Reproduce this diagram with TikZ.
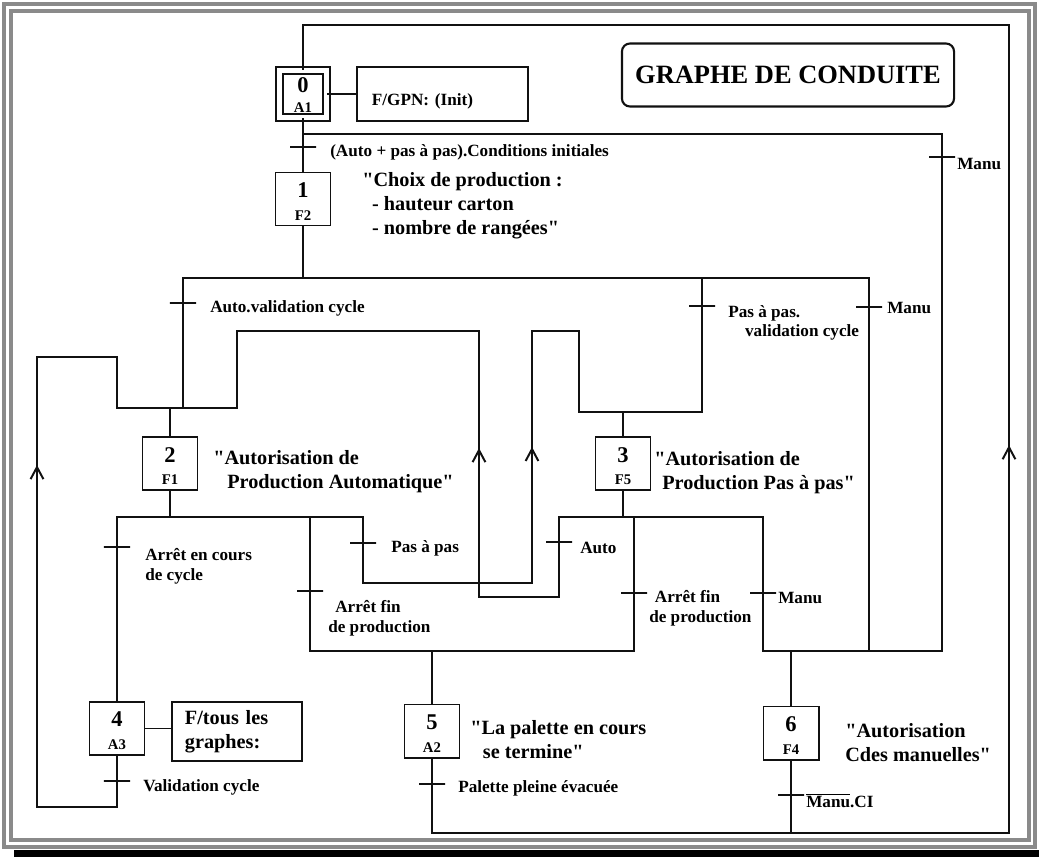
\documentclass[tikz,border=0pt]{standalone}
\usepackage{fontspec}
\setmainfont{Liberation Serif}[Ligatures=TeXOff]
\usepackage{xcolor}
\definecolor{cTrait}{HTML}{111111}
\definecolor{cCadre}{HTML}{8A8A8A}
\usepackage{tikz}
\usetikzlibrary{arrows.meta, decorations.markings}

\newcommand{\fpetit}{\fontsize{12.2}{14}\selectfont\bfseries\frenchspacing}
\newcommand{\fdesc}{\fontsize{14.4}{17}\selectfont\bfseries\frenchspacing}
\newcommand{\ftitre}{\fontsize{18.8}{22}\selectfont\bfseries}
\newcommand{\fnum}{\fontsize{16}{16}\selectfont\bfseries}
\newcommand{\fsub}{\fontsize{10.5}{10.5}\selectfont\bfseries}
\newcommand{\gd}{\symbol{34}}

\begin{document}
\begin{tikzpicture}[x=0.025cm, y=-0.025cm,
    trait/.style={line width=1.4pt, color=cTrait, line cap=rect},
    etape/.style={draw=cTrait, line width=1.4pt, fill=white,
                  minimum width=1.375cm, minimum height=1.325cm, inner sep=0pt},
    etapeinit/.style={etape, double, double distance=3.7pt,
                      minimum width=1.1875cm, minimum height=1.175cm},
    num/.style={anchor=north, inner sep=0pt, yshift=-7.7pt, font=\fnum},
    sub/.style={anchor=south, inner sep=0pt, yshift=4.2pt, font=\fsub},
    etq/.style 2 args={label={[num]north:#1}, label={[sub]south:#2}},
    action/.style={draw=cTrait, line width=1.4pt, align=left, font=\fdesc},
    trans/.style={draw=cTrait, line width=1.4pt, minimum width=0.65cm,
                  minimum height=0pt, inner sep=0pt, outer sep=0pt},
    etiq/.style={anchor=west, inner sep=0pt, align=left, font=\fpetit},
    desc/.style={anchor=west, inner sep=0pt, align=left, font=\fdesc},
    titre/.style={draw=cTrait, line width=1.5pt, rounded corners=0.2cm,
                  minimum width=8.3cm, minimum height=1.575cm, font=\ftitre},
    fleche/.style={postaction={decorate}, decoration={markings,
        mark=at position #1 with {\arrow{Straight Barb[length=3mm, width=3.2mm]}}}}
]
\useasboundingbox (0,0) rectangle (1039,857);

% cadre de la page
\draw[cCadre, line width=2.6pt] (4,4) rectangle (1035,847);
\draw[cCadre, line width=2.2pt] (11,11) rectangle (1029,840);
\fill[black] (14,850) rectangle (1039,857);

\node[titre] (titre) at (788,75) {GRAPHE DE CONDUITE};

% etapes
\node[etapeinit, label={[num, yshift=2.4pt]north:0}, label={[sub]south:A1}] (e0) at (303,94) {};
\node[etape, etq={1}{F2}] (e1) at (303,199) {};
\node[etape, etq={2}{F1}] (e2) at (170,463.5) {};
\node[etape, etq={3}{F5}] (e3) at (623,463.5) {};
\node[etape, etq={4}{A3}] (e4) at (117,728.5) {};
\node[etape, etq={5}{A2}] (e5) at (432,731) {};
\node[etape, etq={6}{F4}] (e6) at (791,733) {};

% actions
\node[action, font=\fpetit, text width=3.525cm, inner xsep=0.375cm,
      minimum height=1.35cm, text height=19pt] (a0) at (442.5,94) {F/GPN: (Init)};
\node[action, text width=2.6cm, inner xsep=0.325cm,
      minimum height=1.475cm] (a4) at (237,731.5) {F/tous les\\graphes:};

\node[desc] (d1) at (362,206) {\gd Choix de production :\\\hspace*{7pt}- hauteur carton\\\hspace*{7pt}- nombre de rangées\gd};
\node[desc] (d2) at (213,472) {\gd Autorisation de\\\hspace*{10pt}Production Automatique\gd};
\node[desc] (d3) at (654,473) {\gd Autorisation de\\\hspace*{5.7pt}Production Pas à pas\gd};
\node[desc] (d5) at (470,740) {\gd La palette en cours\\\hspace*{9pt}se termine\gd};
\node[desc] (d6) at (845,743) {\gd Autorisation\\Cdes manuelles\gd};

% transitions
\node[trans] (t01) at (303,147) {};
\node[etiq] (l01) at (330,152) {(Auto + pas à pas).Conditions initiales};
\node[trans] (t0m) at (942,157) {};
\node[etiq] (l0m) at (957,164) {Manu};
\node[trans] (t12) at (183,303) {};
\node[etiq] (l12) at (210,308) {Auto.validation cycle};
\node[trans] (t13) at (702,306) {};
\node[etiq] (l13) at (728,323) {Pas à pas.\\\hspace*{12pt}validation cycle};
\node[trans] (t1m) at (869,307) {};
\node[etiq] (l1m) at (887,308) {Manu};
\node[trans] (t24) at (117,547) {};
\node[etiq] (l24) at (145,566) {Arrêt en cours\\de cycle};
\node[trans] (t23) at (363,543) {};
\node[etiq] (l23) at (391,548) {Pas à pas};
\node[trans] (t25) at (310,591) {};
\node[etiq] (l25) at (328,618) {\hspace*{5pt}Arrêt fin\\de production};
\node[trans] (t32) at (559,542) {};
\node[etiq] (l32) at (580,548) {Auto};
\node[trans] (t35) at (634,593) {};
\node[etiq] (l35) at (649,608) {\hspace*{4pt}Arrêt fin\\de production};
\node[trans] (t36) at (763,593) {};
\node[etiq] (l36) at (778,598) {Manu};
\node[trans] (t42) at (117,781) {};
\node[etiq] (l42) at (143,787) {Validation cycle};
\node[trans] (t50) at (432,784) {};
\node[etiq] (l50) at (458,788) {Palette pleine évacuée};
\node[trans] (t60) at (791,795) {};
\node[etiq] (l60) at (806,801) {$\overline{\mbox{Manu}}$.CI};

% points de liaison
\coordinate (hautG) at (303,25);
\coordinate (hautD) at (1009,25);
\coordinate (basD) at (1009,833);
\coordinate (bas5) at (432,833);
\coordinate (bas6) at (791,833);
\coordinate (m0a) at (303,134);
\coordinate (m0b) at (942,134);
\coordinate (n1) at (303,278);
\coordinate (g1) at (183,278);
\coordinate (p1) at (702,278);
\coordinate (d1b) at (869,278);
\coordinate (g2) at (183,408);
\coordinate (i2g) at (117,408);
\coordinate (i2m) at (170,408);
\coordinate (i2d) at (237,408);
\coordinate (r4a) at (117,807);
\coordinate (r4b) at (37,807);
\coordinate (r4c) at (37,357);
\coordinate (r4d) at (117,357);
\coordinate (r3a) at (237,331);
\coordinate (r3b) at (479,331);
\coordinate (r3c) at (479,597);
\coordinate (r3d) at (559,597);
\coordinate (p2) at (702,412);
\coordinate (i3g) at (579,412);
\coordinate (i3m) at (623,412);
\coordinate (r2a) at (579,331);
\coordinate (r2b) at (532,331);
\coordinate (r2c) at (532,583);
\coordinate (r2d) at (363,583);
\coordinate (o2m) at (170,517);
\coordinate (o2g) at (117,517);
\coordinate (o2c) at (310,517);
\coordinate (o2d) at (363,517);
\coordinate (o3g) at (559,517);
\coordinate (o3m) at (623,517);
\coordinate (o3c) at (634,517);
\coordinate (o3d) at (763,517);
\coordinate (c5g) at (310,651);
\coordinate (c5m) at (432,651);
\coordinate (c5d) at (634,651);
\coordinate (c6g) at (763,651);
\coordinate (c6m) at (791,651);
\coordinate (c6x) at (869,651);
\coordinate (c6d) at (942,651);

% liaisons
\draw[trait] (hautD) -- (hautG) -- (e0);
\draw[trait] (e0) -- (a0);
\draw[trait] (e0) -- (e1);
\draw[trait] (m0a) -- (m0b) -- (c6d);
\draw[trait] (e1) -- (n1);
\draw[trait] (g1) -- (d1b);
\draw[trait] (g1) -- (g2);
\draw[trait] (p1) -- (p2);
\draw[trait] (d1b) -- (c6x);
\draw[trait] (i2g) -- (i2d);
\draw[trait] (i2m) -- (e2);
\draw[trait] (e2) -- (o2m);
\draw[trait] (o2g) -- (o2d);
\draw[trait] (o2g) -- (e4);
\draw[trait] (o2c) -- (c5g);
\draw[trait] (o2d) -- (r2d) -- (r2c);
\draw[trait, fleche=0.54] (r2c) -- (r2b);
\draw[trait] (r2b) -- (r2a) -- (i3g) -- (p2);
\draw[trait] (i3m) -- (e3);
\draw[trait] (e3) -- (o3m);
\draw[trait] (o3g) -- (o3d);
\draw[trait] (o3g) -- (r3d) -- (r3c);
\draw[trait, fleche=0.56] (r3c) -- (r3b);
\draw[trait] (r3b) -- (r3a) -- (i2d);
\draw[trait] (o3c) -- (c5d);
\draw[trait] (o3d) -- (c6g);
\draw[trait] (c5g) -- (c5d);
\draw[trait] (c5m) -- (e5);
\draw[trait] (c6g) -- (c6d);
\draw[trait] (c6m) -- (e6);
\draw[trait] (e4.east) -- (e4.east -| a4.west);
\draw[trait] (e4) -- (r4a) -- (r4b);
\draw[trait, fleche=0.76] (r4b) -- (r4c);
\draw[trait] (r4c) -- (r4d) -- (i2g);
\draw[trait] (e5) -- (bas5);
\draw[trait] (bas5) -- (basD);
\draw[trait] (e6) -- (bas6);
\draw[trait, fleche=0.48] (basD) -- (hautD);
\end{tikzpicture}
\end{document}
